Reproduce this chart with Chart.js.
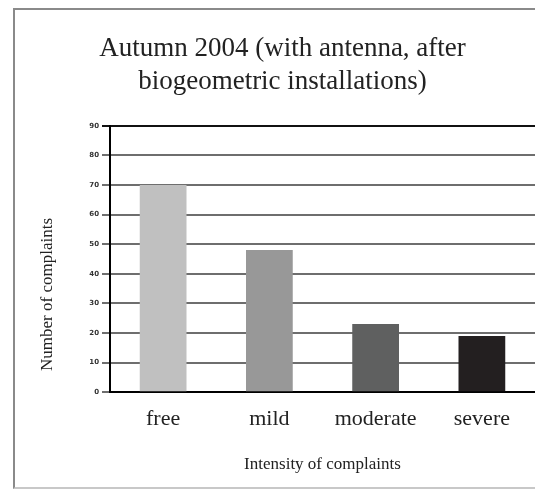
<!DOCTYPE html>
<html>
<head>
<meta charset="utf-8">
<script src="https://cdn.jsdelivr.net/npm/chart.js@4.4.0/dist/chart.umd.min.js"></script>
<style>
    body { margin: 0; background: #fff; }
    #wrap { position: relative; width: 535px; height: 489px; overflow: hidden; }
    #frame {
        position: absolute; left: 13px; top: 8px; width: 540px; height: 477px;
        border-left: 2px solid #8a8a8a; border-top: 2px solid #8a8a8a; border-bottom: 2px solid #c8c8c8;
    }
    #myChart { position: absolute; left: 0; top: 0; }
</style>
</head>
<body>
<div id="wrap">
    <div id="frame"></div>
    <canvas id="myChart" width="535" height="489"></canvas>
</div>
<script>
let categories = ["free", "mild", "moderate", "severe"]
let complaints = [70, 48, 23, 19]
let barColors = ["#c0c0c0", "#989898", "#5f6060", "#231f20"]
let yTicks = [0, 10, 20, 30, 40, 50, 60, 70, 80, 90]

const ctx = document.getElementById('myChart')

new Chart(ctx, {
    type: 'bar',
    data: {
        labels: categories,
        datasets: [{
            label: 'Number of complaints',
            data: complaints,
            backgroundColor: barColors,
            borderWidth: 0,
            barPercentage: 0.44,
            categoryPercentage: 1
        }]
    },
    options: {
        responsive: false,
        animation: false,
        layout: { padding: { left: 30, right: 0, top: 0, bottom: 14 } },
        plugins: {
            legend: { display: false },
            tooltip: { enabled: false },
            title: {
                display: true,
                text: ['Autumn 2004 (with antenna, after', 'biogeometric installations)'],
                color: '#222',
                font: { family: 'Liberation Serif', size: 27, weight: 'normal', lineHeight: 1.2 },
                padding: { top: 33, bottom: 28 }
            }
        },
        scales: {
            x: {
                grid: { display: false, drawTicks: false },
                border: { display: true, color: '#000', width: 2 },
                ticks: {
                    color: '#222', padding: 14,
                    font: { family: 'Liberation Serif', size: 22 }
                },
                title: {
                    display: true,
                    text: 'Intensity of complaints',
                    color: '#222',
                    font: { family: 'Liberation Serif', size: 17 },
                    padding: { top: 8, bottom: 0 }
                }
            },
            y: {
                min: 0,
                max: 90,
                afterBuildTicks: (scale) => { scale.ticks = yTicks.map(v => ({ value: v })) },
                afterFit: (scale) => { scale.width = 80 },
                grid: {
                    color: (c) => c.tick && c.tick.value === 90 ? '#111' : '#6e6e6e',
                    lineWidth: 2,
                    tickLength: 8
                },
                border: { display: true, color: '#000', width: 2 },
                ticks: {
                    color: '#333', padding: 3,
                    font: { family: 'DejaVu Sans', size: 7, weight: 'bold' }
                },
                title: {
                    display: true,
                    // leading spaces lift the label off the axis bottom like the original
                    text: '     Number of complaints',
                    align: 'start',
                    color: '#222',
                    font: { family: 'Liberation Serif', size: 17 },
                    padding: { top: 7, bottom: 0 }
                }
            }
        }
    }
})
</script>
</body>
</html>
